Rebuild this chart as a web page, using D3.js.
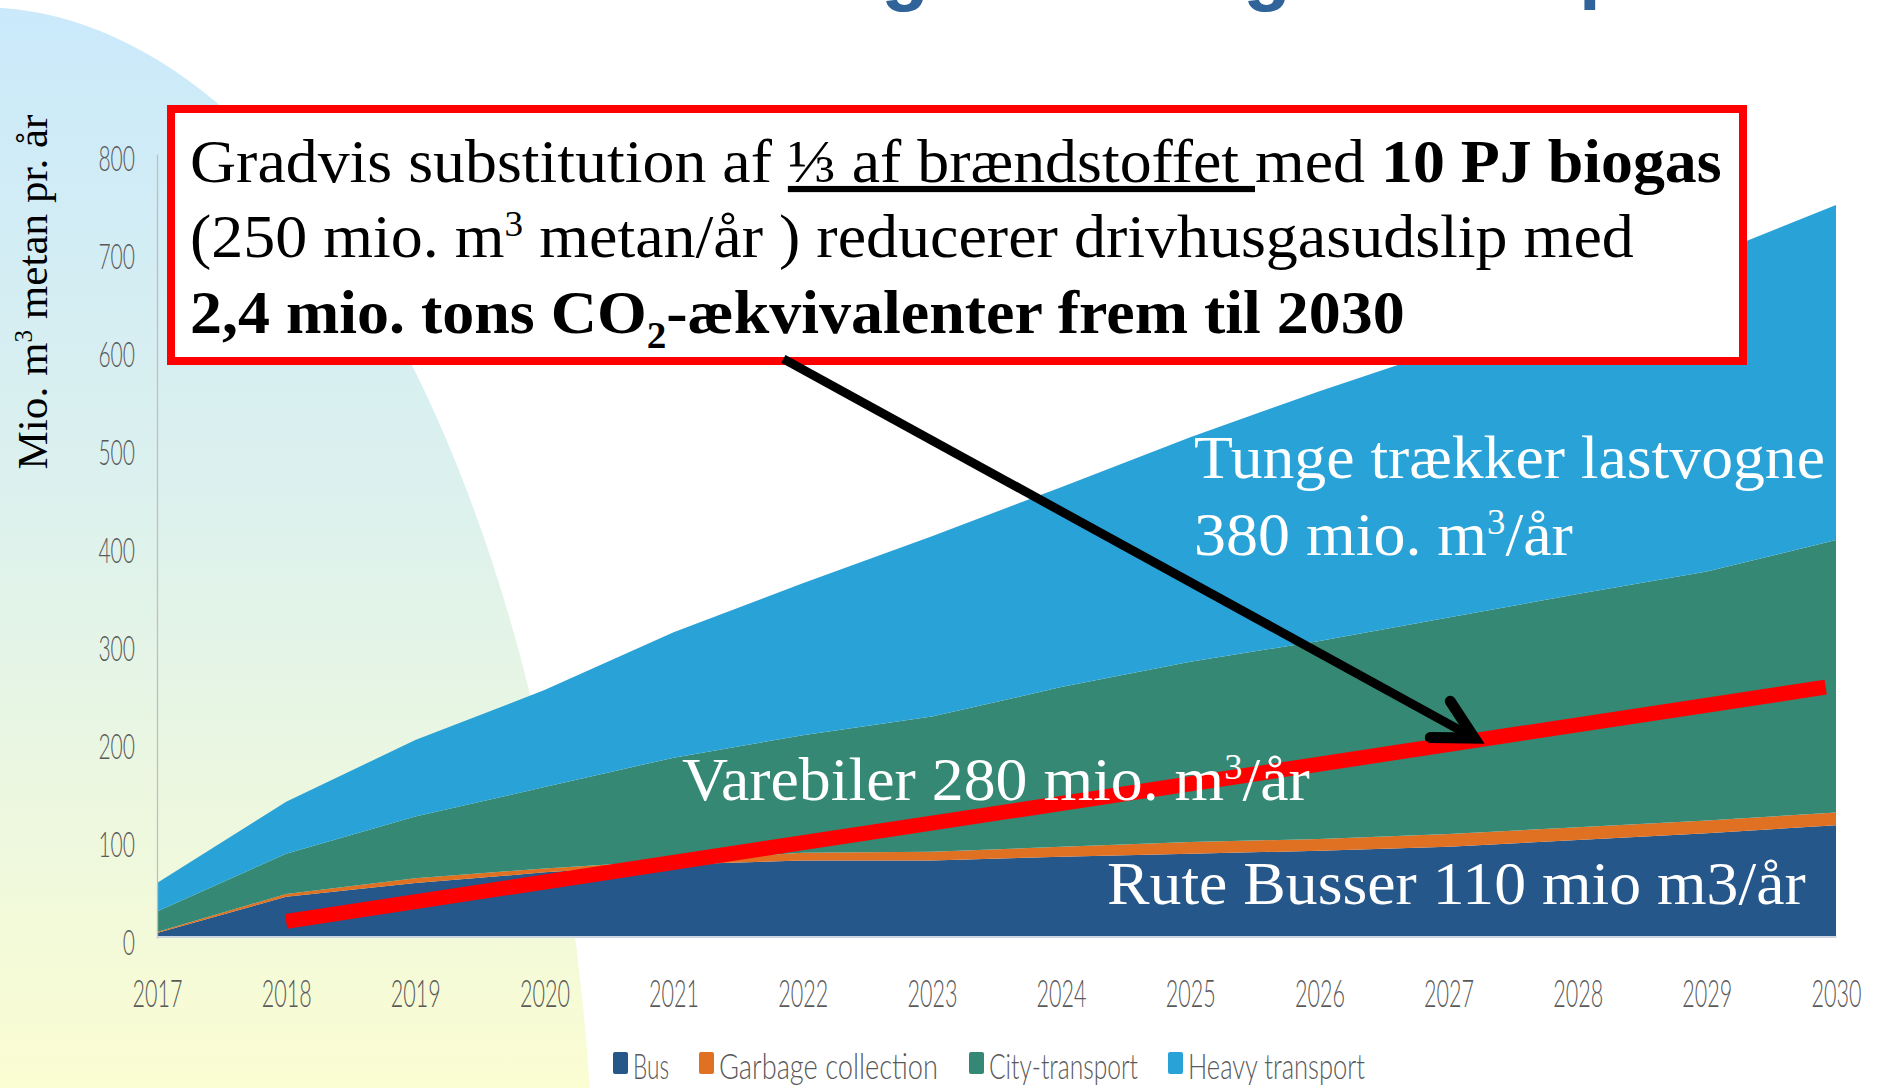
<!DOCTYPE html>
<html><head><meta charset="utf-8">
<script src="https://cdn.jsdelivr.net/npm/d3@7"></script>
<style>html,body{margin:0;padding:0;background:#fff;} svg{display:block} text{white-space:pre}</style>
</head><body>
<svg id="chart" width="1877" height="1088"></svg>
<script>
// ---------- DATA ----------
const years = [2017,2018,2019,2020,2021,2022,2023,2024,2025,2026,2027,2028,2029,2030];
const seriesKeys = ["Bus","Garbage collection","City-transport","Heavy transport"];
const busValues      = [5, 42, 56, 67, 75, 79, 79, 83, 86, 89, 93, 100, 107, 115];
const garbageValues  = [1,  3,  5,  4,  4,  8,  9, 10, 12, 12, 13,  13,  13,  13];
const cityValues     = [21, 41, 63, 83,105,120,138,163,184,202,221, 238, 254, 278];
const heavyValues    = [29, 53, 78, 99,128,155,184,204,229,255,275, 297, 321, 342];
const yTickValues = [0,100,200,300,400,500,600,700,800];
const xTickValues = years;
const redLineData = [[2018, 17], [2029.92, 256]];       // target line (year, value)
const arrowData = [[2021.85, 591], [2027.2, 204]];      // annotation arrow (year, value)
const legendLabels = ["Bus","Garbage collection","City-transport","Heavy transport"];

// ---------- SETUP ----------
const svg = d3.select("#chart");
const colors = {"Bus":"#26578B","Garbage collection":"#E07022","City-transport":"#358873","Heavy transport":"#29A3D7"};
const serif = "'Liberation Serif','Times New Roman',serif";
const sans = "Lato,'Open Sans',sans-serif";
const x = d3.scaleLinear().domain([2017,2030]).range([157,1836]);
const y = d3.scaleLinear().domain([0,800]).range([938,154]);

function fitX(sel, x0, target){
  const w = sel.node().getBBox().width;
  const s = target / w;
  sel.attr("transform", `translate(${x0},0) scale(${s},1) translate(${-x0},0)`);
}

// background ellipse with gradient
const defs = svg.append("defs");
const grad = defs.append("linearGradient").attr("id","bgGrad")
  .attr("gradientUnits","userSpaceOnUse").attr("x1",0).attr("y1",0).attr("x2",0).attr("y2",1088);
grad.append("stop").attr("offset",0).attr("stop-color","#CAE9FB");
grad.append("stop").attr("offset",0.45).attr("stop-color","#DCF1EE");
grad.append("stop").attr("offset",1).attr("stop-color","#FBFDD2");
svg.append("ellipse").attr("cx",-20).attr("cy",1250).attr("rx",615).attr("ry",1243).attr("fill","url(#bgGrad)");

// title remnants (descenders of the title above the visible frame)
const titleG = svg.append("g").attr("font-family","'Liberation Sans',Arial,sans-serif")
  .attr("font-weight","bold").attr("font-size",78).attr("fill","#2F639A");
titleG.append("text").attr("x",905).attr("y",-4).attr("text-anchor","middle").text("g");
titleG.append("text").attr("x",1267).attr("y",-4).attr("text-anchor","middle").text("g");
titleG.append("text").attr("x",1579).attr("y",-6).text("p");

// ---------- STACKED AREAS ----------
const table = years.map((yr,i)=>({year:yr, "Bus":busValues[i], "Garbage collection":garbageValues[i],
  "City-transport":cityValues[i], "Heavy transport":heavyValues[i]}));
const stacked = d3.stack().keys(seriesKeys)(table);
const area = d3.area().x(d=>x(d.data.year)).y0(d=>y(d[0])).y1(d=>y(d[1]));
svg.append("g").selectAll("path").data(stacked).join("path")
  .attr("d", area).attr("fill", d=>colors[d.key]);

// ---------- AXES ----------
const yAxis = d3.axisLeft(y).tickValues(yTickValues).tickSize(0).tickSizeOuter(0).tickPadding(22).tickFormat(d3.format("d"));
const gy = svg.append("g").attr("transform","translate(157,0)").call(yAxis);
gy.select(".domain").attr("stroke","#BFBFBF").attr("stroke-width",1.3);
gy.selectAll("text").attr("font-family",sans).attr("font-weight",300).attr("font-size",36).attr("fill","#595959")
  .attr("dy","0.45em")
  .attr("textLength", d=>String(d).length*12.2).attr("lengthAdjust","spacingAndGlyphs");

const xAxis = d3.axisBottom(x).tickValues(xTickValues).tickSize(0).tickSizeOuter(0).tickFormat(d3.format("d"));
const gx = svg.append("g").attr("transform",`translate(0,${y(0)-1.5})`).call(xAxis);
gx.select(".domain").attr("stroke","#CDD5E3").attr("stroke-width",2);
gx.selectAll("text").attr("font-family",sans).attr("font-weight",300).attr("font-size",37).attr("fill","#595959")
  .attr("y",70).attr("dy",0)
  .attr("textLength", d=>String(d).length*12.5).attr("lengthAdjust","spacingAndGlyphs");

// y-axis title
const yt = svg.append("g").attr("transform","translate(47,292) rotate(-90)");
const ytt = yt.append("text").attr("text-anchor","middle").attr("font-family",serif).attr("font-size",43).attr("fill","#000");
ytt.append("tspan").text("Mio. m");
ytt.append("tspan").attr("font-size",25).attr("dy",-15).text("3");
ytt.append("tspan").attr("dy",15).text(" metan pr. år");
fitX(ytt, 0, 355);

// ---------- RED TARGET LINE ----------
svg.append("path").datum(redLineData)
  .attr("d", d3.line().x(d=>x(d[0])).y(d=>y(d[1])))
  .attr("stroke","#FF0000").attr("stroke-width",15).attr("fill","none");

// ---------- WHITE AREA LABELS ----------
function whiteLabel(parts, x0, yb, target){
  const t = svg.append("text").attr("x",x0).attr("y",yb).attr("font-family",serif)
    .attr("font-size",61).attr("fill","#fff");
  parts.forEach(p=>{
    const s = t.append("tspan").text(p.t);
    if(p.sup){ s.attr("font-size",35).attr("dy",-21); }
    if(p.after){ s.attr("dy",21); }
  });
  fitX(t, x0, target);
  return t;
}
whiteLabel([{t:"Tunge trækker lastvogne"}], 1194, 478, 631);
whiteLabel([{t:"380 mio. m"},{t:"3",sup:true},{t:"/år",after:true}], 1194, 555, 379);
whiteLabel([{t:"Varebiler 280 mio. m"},{t:"3",sup:true},{t:"/år",after:true}], 682, 800, 628);
whiteLabel([{t:"Rute Busser 110 mio m3/år"}], 1107, 904, 699);

// ---------- TEXT BOX ----------
const box = svg.append("g");
box.append("rect").attr("x",171).attr("y",109).attr("width",1572).attr("height",252)
  .attr("fill","#fff").attr("stroke","#FF0000").attr("stroke-width",8);
const l1 = box.append("text").attr("x",190).attr("y",182).attr("font-family",serif).attr("font-size",62).attr("fill","#000");
l1.append("tspan").text("Gradvis substitution af ");
l1.append("tspan").attr("text-decoration","underline").text("⅓ af brændstoffet ");
l1.append("tspan").text("med ");
l1.append("tspan").attr("font-weight","bold").text("10 PJ biogas");
fitX(l1, 190, 1532);
const l2 = box.append("text").attr("x",190).attr("y",257).attr("font-family",serif).attr("font-size",62).attr("fill","#000");
l2.append("tspan").text("(250 mio. m");
l2.append("tspan").attr("font-size",36).attr("dy",-21).text("3");
l2.append("tspan").attr("dy",21).text(" metan/år ) reducerer drivhusgasudslip med");
fitX(l2, 190, 1444);
const l3 = box.append("text").attr("x",190).attr("y",333).attr("font-family",serif).attr("font-size",62)
  .attr("font-weight","bold").attr("fill","#000");
l3.append("tspan").text("2,4 mio. tons CO");
l3.append("tspan").attr("font-size",38).attr("dy",15).text("2");
l3.append("tspan").attr("dy",-15).text("-ækvivalenter frem til 2030");
fitX(l3, 190, 1215);

// ---------- ARROW ----------
const a0 = [x(arrowData[0][0]), y(arrowData[0][1])];
const a1 = [x(arrowData[1][0]), y(arrowData[1][1])];
svg.append("line").attr("x1",a0[0]).attr("y1",a0[1]).attr("x2",a1[0]).attr("y2",a1[1])
  .attr("stroke","#000").attr("stroke-width",9);
const ang = Math.atan2(a0[1]-a1[1], a0[0]-a1[0]);
const headLen = 44, spread = 28*Math.PI/180;
const h1 = [a1[0]+headLen*Math.cos(ang+spread), a1[1]+headLen*Math.sin(ang+spread)];
const h2 = [a1[0]+headLen*Math.cos(ang-spread), a1[1]+headLen*Math.sin(ang-spread)];
svg.append("path").attr("d",`M${h1[0]},${h1[1]}L${a1[0]},${a1[1]}L${h2[0]},${h2[1]}`)
  .attr("fill","none").attr("stroke","#000").attr("stroke-width",11)
  .attr("stroke-linecap","round").attr("stroke-linejoin","miter");

// ---------- LEGEND ----------
const legendMarkX = [613, 699, 969, 1168];
const legendTextLen = [36, 219, 149, 177];
const lg = svg.append("g");
legendLabels.forEach((lab,i)=>{
  lg.append("rect").attr("x",legendMarkX[i]).attr("y",1052).attr("width",15).attr("height",22)
    .attr("rx",2).attr("fill",colors[seriesKeys[i]]);
  lg.append("text").attr("x",legendMarkX[i]+20).attr("y",1079).attr("font-family",sans).attr("font-weight",300)
    .attr("font-size",36).attr("fill","#595959")
    .attr("textLength",legendTextLen[i]).attr("lengthAdjust","spacingAndGlyphs").text(lab);
});
</script>
</body></html>
